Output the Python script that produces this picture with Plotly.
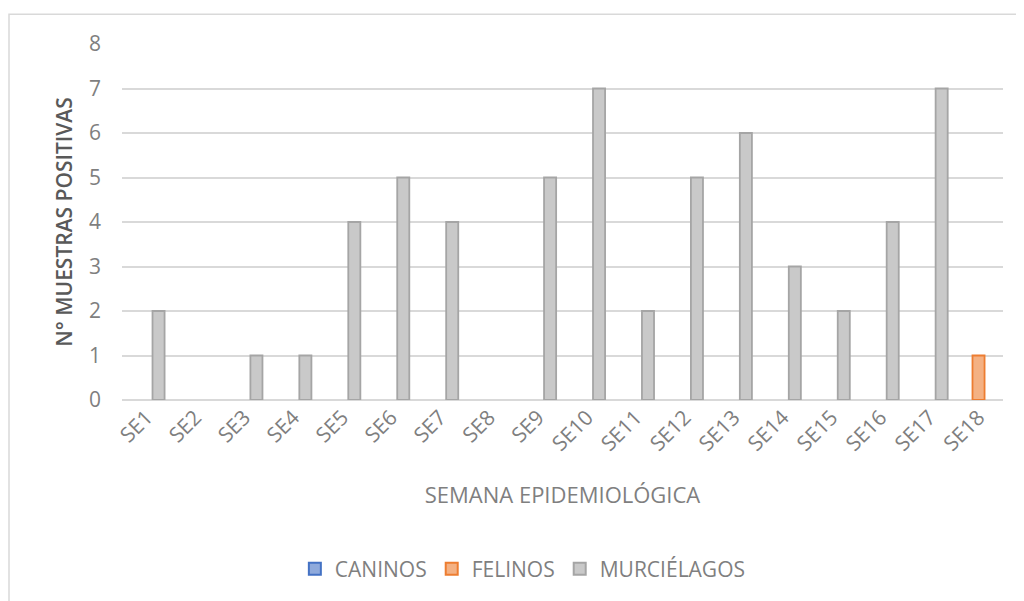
import plotly.graph_objects as go

weeks = [f"SE{i}" for i in range(1, 19)]
caninos = [0]*18
felinos = [0]*17 + [1]
murcielagos = [2, 0, 1, 1, 4, 5, 4, 0, 5, 7, 2, 5, 6, 3, 2, 4, 7, 0]

font_family = "'Open Sans', sans-serif"
txt = "#7f7f7f"

def lw(vals):
    return [1.8 if v else 0 for v in vals]

fig = go.Figure()
fig.add_bar(x=weeks, y=caninos, name="CANINOS",
            marker=dict(color="#8faadc", line=dict(color="#4472c4", width=lw(caninos))))
fig.add_bar(x=weeks, y=felinos, name="FELINOS",
            marker=dict(color="#f4b183", line=dict(color="#ed7d31", width=lw(felinos))))
fig.add_bar(x=weeks, y=murcielagos, name="MURCIÉLAGOS",
            marker=dict(color="#c9c9c9", line=dict(color="#a5a5a5", width=lw(murcielagos))))

fig.update_layout(
    width=1016, height=593,
    barmode="group", bargap=0.26, bargroupgap=0,
    plot_bgcolor="white", paper_bgcolor="white",
    margin=dict(l=114, r=21, t=36, b=198),
    font=dict(family=font_family, color=txt, size=16),
    showlegend=True,
    legend=dict(orientation="h", x=0.455, xanchor="center", y=-0.475, yanchor="middle",
                font=dict(size=21, color=txt), itemsizing="constant", traceorder="normal"),
    xaxis=dict(tickangle=-45, tickfont=dict(size=21, color=txt), showgrid=False,
               showline=False, ticks="",
               title=dict(text="SEMANA EPIDEMIOLÓGICA", font=dict(size=22, color=txt), standoff=32)),
    yaxis=dict(range=[0, 8], dtick=1, tickfont=dict(size=21, color=txt),
               gridcolor="#d9d9d9", gridwidth=1.5, zeroline=True, zerolinecolor="#d9d9d9",
               zerolinewidth=1.5, ticks="", ticklabelstandoff=20,
               title=dict(text="N° MUESTRAS POSITIVAS", font=dict(size=21, color="#595959", weight=600),
                          standoff=10)),
    shapes=[dict(type="rect", xref="paper", yref="paper",
                 x0=(1 - 114) / 881, x1=1.05, y0=-0.6, y1=(395 - 6) / 359,
                 line=dict(color="#d9d9d9", width=1.5), layer="below")],
)

fig.write_html("out.html")
